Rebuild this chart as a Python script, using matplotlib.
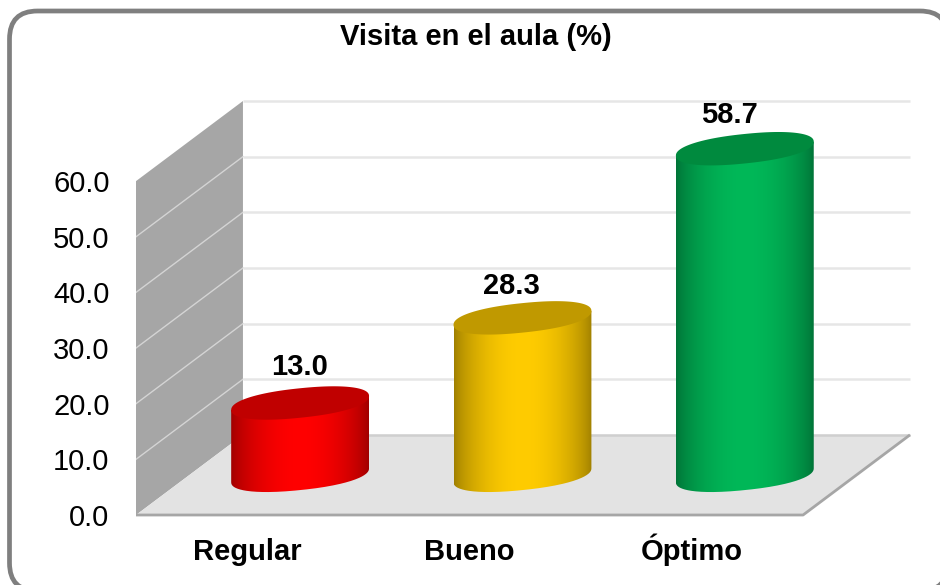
import matplotlib
matplotlib.use("Agg")
import matplotlib.pyplot as plt
import numpy as np
from matplotlib.patches import FancyBboxPatch, PathPatch, Polygon
from matplotlib.path import Path

plt.rcParams["font.family"] = ["Liberation Sans", "DejaVu Sans"]

# Data
categories = ["Regular", "Bueno", "Óptimo"]
values = [13.0, 28.3, 58.7]
y_ticks = [0, 10, 20, 30, 40, 50, 60]
title = "Visita en el aula (%)"

# Colours
body_colors = ["#FF0000", "#FFCC00", "#00B858"]
top_colors = ["#C00000", "#C09900", "#008A3E"]
label_shift_px = [-1, -11, -15]
label_lift_px = [36, 32, 34]

# 3D look: how far the back wall is pushed from the front plane (in data units)
depth_x = 0.481
depth_y = 14.4
bar_depth = 0.495
half_w = 0.31
tilt = 1.25
minor = 2.65
round_pow = 0.9  # below 1 makes the ellipses fuller


def ellipse_xy(cx, cy, t):
    c = np.cos(t)
    s = np.sin(t)
    c = np.sign(c) * np.abs(c) ** round_pow
    s = np.sign(s) * np.abs(s) ** round_pow
    return cx + half_w * c, cy + tilt * c + minor * s


fig = plt.figure(figsize=(9.4, 5.85), dpi=100)

# Rounded outer frame, drawn in pixel units
bg = fig.add_axes([0, 0, 1, 1])
bg.set_xlim(0, 940)
bg.set_ylim(585, 0)
bg.axis("off")
bg.add_patch(FancyBboxPatch((9.5, 11), 938.5, 580, boxstyle="round,pad=0,rounding_size=28",
                            fc="white", ec="#7F7F7F", lw=3.4))

# Main axes: front plane is the value scale
ax = fig.add_axes([136 / 940, (585 - 515) / 585, 774 / 940, 414 / 585])
ax.patch.set_alpha(0)
x0, x1 = -0.5, 2.5
for s in ax.spines.values():
    s.set_visible(False)

# Walls and floor
y_top = max(y_ticks)
ax.add_patch(Polygon([(x0, 0), (x0 + depth_x, depth_y), (x0 + depth_x, y_top + depth_y), (x0, y_top)],
                     fc="#A6A6A6", ec="none", zorder=1))
ax.add_patch(Polygon([(x0, 0), (x1, 0), (x1 + depth_x, depth_y), (x0 + depth_x, depth_y)],
                     fc="#E3E3E3", ec="none", zorder=1))

# Grid lines on side and back wall
for v in y_ticks:
    if 0 < v < y_top:
        ax.plot([x0, x0 + depth_x], [v, v + depth_y], color="#D4D4D4", lw=1.0, zorder=2)
    grid_color = "#CFCFCF" if v == 0 else "#E6E6E6"
    ax.plot([x0 + depth_x, x1 + depth_x], [v + depth_y, v + depth_y], color=grid_color, lw=1.8,
            zorder=2, clip_on=False, solid_capstyle="butt")

# Front and right floor edges
ax.plot([x0, x1, x1 + depth_x], [0, 0, depth_y], color="#A6A6A6", lw=2.0, zorder=2,
        solid_capstyle="butt", clip_on=False)

# Shading across the cylinder, left to right
u = np.linspace(0, 1, 200)
shade = 0.62 + 0.38 * np.sin(np.pi * u) ** 0.7
t = np.linspace(0, 2 * np.pi, 300)

for i, (val, body, top) in enumerate(zip(values, body_colors, top_colors)):
    cx = i + depth_x * bar_depth
    base = depth_y * bar_depth
    top_y = base + val

    # Body outline: lower half of bottom ellipse, then back along the top
    tb = np.linspace(np.pi, 2 * np.pi, 150)
    xs, ys = ellipse_xy(cx, base, tb)
    xs = np.r_[xs, cx + half_w, cx - half_w, xs[0]]
    ys = np.r_[ys, top_y + tilt, top_y - tilt, ys[0]]
    outline = PathPatch(Path(np.column_stack([xs, ys])), fc="none", ec="none", zorder=3)
    ax.add_patch(outline)

    rgb = np.array(matplotlib.colors.to_rgb(body))
    grad = shade[None, :, None] * rgb[None, None, :]
    im = ax.imshow(grad, extent=[cx - half_w, cx + half_w, base - minor - tilt, top_y + tilt],
                   aspect="auto", origin="lower", interpolation="bilinear", zorder=3)
    im.set_clip_path(outline)

    # Top face
    top_x, top_yy = ellipse_xy(cx, top_y, t)
    ax.add_patch(Polygon(np.column_stack([top_x, top_yy]), fc=top, ec="none", zorder=4))

    # Value label
    ax.annotate(f"{val:.1f}", (cx, top_y), xytext=(label_shift_px[i] * 0.72, label_lift_px[i] * 0.72),
                textcoords="offset points", ha="center", va="center",
                fontsize=21, fontweight="bold", color="black", zorder=5)

ax.set_xlim(x0, x1 + depth_x)
ax.set_ylim(0, y_top + depth_y)

# Axis labels
ax.set_yticks(y_ticks)
ax.set_yticklabels([f"{v:.1f}" for v in y_ticks], fontsize=21, color="black")
ax.set_xticks(range(len(categories)))
ax.set_xticklabels(categories, fontsize=21, fontweight="bold", color="black", va="baseline")
ax.tick_params(axis="y", length=0, pad=19)
ax.tick_params(axis="x", length=0, pad=32.4)

fig.text(476 / 940, 1 - 37 / 585, title, ha="center", va="center",
         fontsize=21, fontweight="bold", color="black")

fig.savefig("out.png", dpi=100)
